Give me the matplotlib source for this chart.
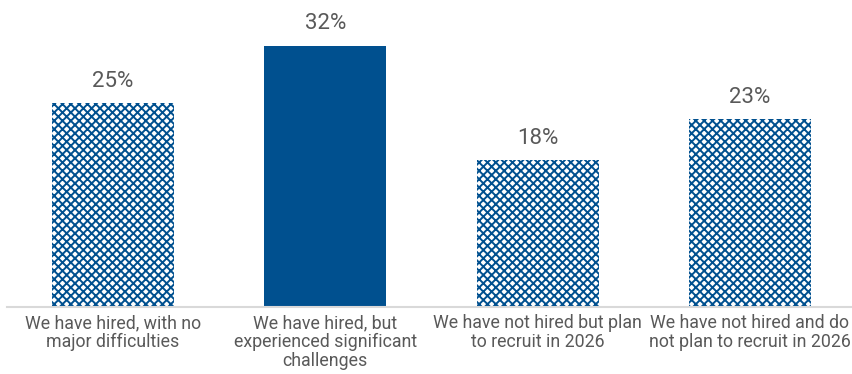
import matplotlib.pyplot as plt
import numpy as np

# -- data --
categories = ['We have hired, with no\nmajor difficulties',
              'We have hired, but\nexperienced significant\nchallenges',
              'We have not hired but plan\nto recruit in 2026',
              'We have not hired and do\nnot plan to recruit in 2026']
values = [25, 32, 18, 23]
highlight = [False, True, False, False]

blue = '#00508f'
grey_text = '#595959'

plt.rcParams['font.family'] = ['Roboto', 'DejaVu Sans']
plt.rcParams['hatch.linewidth'] = 1.4

fig = plt.figure(figsize=(8.53, 3.74), dpi=100)
ax = fig.add_axes([7 / 853, 67 / 374, 849 / 853, 285.6 / 374])

x = np.arange(len(values))
for xi, v, hl in zip(x, values, highlight):
    if hl:
        ax.bar(xi, v, width=0.575, color=blue, linewidth=0)
    else:
        # patterned fill for the other answers
        ax.bar(xi, v, width=0.575, color='white', edgecolor=blue,
               hatch='xxxx', linewidth=0)
    ax.text(xi, v + 1.4, f'{v}%', ha='center', va='bottom',
            fontsize=16, color=grey_text)

ax.set_xlim(-0.5, 3.5)
ax.set_ylim(0, 35)
ax.set_xticks(x)
ax.set_xticklabels(categories, fontsize=12.8, color=grey_text,
                   linespacing=1.08)
ax.tick_params(axis='x', length=0, pad=5)
ax.set_yticks([])
for s in ['top', 'right', 'left']:
    ax.spines[s].set_visible(False)
ax.spines['bottom'].set_color('#d9d9d9')
ax.spines['bottom'].set_linewidth(1.5)

fig.savefig('out.png', dpi=100)
